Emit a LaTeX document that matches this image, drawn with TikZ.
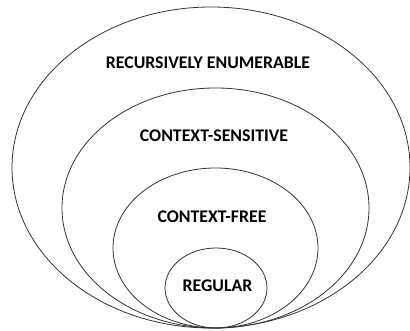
\documentclass[tikz,border=0pt]{standalone}
\usepackage{fontspec}
\setmainfont{Carlito}
\usetikzlibrary{shapes.geometric}
\begin{document}
\begin{tikzpicture}[x=1pt,y=-1pt,
  lang/.style={draw=black!80, line width=0.8pt, ellipse, inner sep=0pt},
  lbl/.style={font=\bfseries\fontsize{17.8}{20}\selectfont, text=black, inner sep=0pt}]
\useasboundingbox (0,0) rectangle (410,331);
\node[lang, minimum width=398pt, minimum height=321pt] (re) at (211,167.5) {};
\node[lang, minimum width=307pt, minimum height=240pt] (cs) at (215.5,208) {};
\node[lang, minimum width=205pt, minimum height=160pt] (cf) at (215.5,248) {};
\node[lang, minimum width=102pt, minimum height=80pt] (rg) at (216,288) {};
\node[lbl] (tre) at (208,63) {RECURSIVELY ENUMERABLE};
\node[lbl] (tcs) at (214,136) {CONTEXT-SENSITIVE};
\node[lbl] (tcf) at (212,217) {CONTEXT-FREE};
\node[lbl] (trg) at (217.5,286) {REGULAR};
\end{tikzpicture}
\end{document}
